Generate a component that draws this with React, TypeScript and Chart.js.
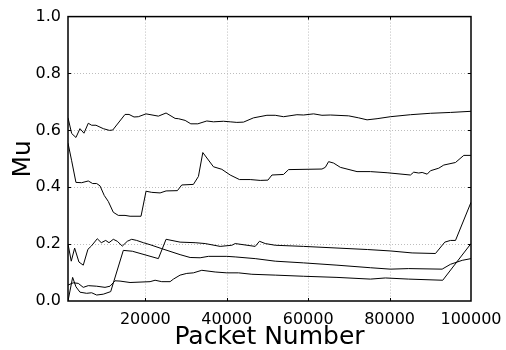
import React, { useEffect, useRef } from "react";
import { Chart, registerables } from "chart.js";

Chart.register(...registerables);

// ---- Data ----
const xTickValues = [20000, 40000, 60000, 80000, 100000];
const yTickValues = [0, 0.2, 0.4, 0.6, 0.8, 1.0];

const topX = [1000, 1900, 2950, 3940, 4920, 5980, 6810, 7870, 9670, 11140, 11980, 15010, 15990, 17220, 18280, 20170, 23200, 25090, 27310, 28120, 29770, 31170, 32890, 35100, 36730, 39190, 40840, 42480, 44110, 46570, 49870, 51910, 53950, 57240, 58870, 61330, 63390, 65440, 69940, 72400, 74470, 76920, 80200, 85120, 90040, 94960, 100000];
const topY = [0.644, 0.589, 0.575, 0.606, 0.59, 0.625, 0.618, 0.618, 0.606, 0.6, 0.601, 0.656, 0.656, 0.647, 0.648, 0.658, 0.65, 0.661, 0.642, 0.641, 0.635, 0.623, 0.623, 0.633, 0.63, 0.632, 0.63, 0.628, 0.629, 0.644, 0.653, 0.653, 0.648, 0.655, 0.654, 0.658, 0.653, 0.654, 0.651, 0.644, 0.637, 0.641, 0.648, 0.655, 0.66, 0.663, 0.667];

const midX = [1000, 1900, 2950, 4350, 5980, 7060, 8040, 8860, 9910, 10900, 12130, 13360, 15010, 16240, 18940, 20170, 21570, 23620, 25090, 27870, 28950, 31810, 33040, 34120, 36730, 38790, 40840, 43120, 45760, 48220, 50110, 51100, 53950, 55180, 63390, 64210, 65020, 66250, 67900, 72000, 75280, 79390, 85120, 85930, 87160, 88000, 89230, 90040, 92080, 93310, 96190, 98230, 100000];
const midY = [0.555, 0.493, 0.417, 0.416, 0.422, 0.413, 0.413, 0.405, 0.371, 0.35, 0.312, 0.301, 0.301, 0.298, 0.298, 0.386, 0.382, 0.38, 0.387, 0.388, 0.408, 0.41, 0.438, 0.522, 0.472, 0.463, 0.443, 0.427, 0.427, 0.424, 0.425, 0.443, 0.445, 0.462, 0.464, 0.47, 0.49, 0.485, 0.47, 0.455, 0.455, 0.451, 0.443, 0.453, 0.45, 0.452, 0.446, 0.458, 0.467, 0.478, 0.487, 0.512, 0.512];

const zigX = [1000, 1800, 2630, 3690, 4750, 5900, 6720, 8190, 9180, 10260, 11070, 12130, 13110, 14340, 15570, 16650, 17880, 19510, 21160, 24040, 28540, 31000, 33460, 35500, 40020, 42070, 46990, 51910, 58870, 67080, 75280, 80200, 84700, 92910, 94960, 97840, 100000];
const zigY = [0.2, 0.14, 0.186, 0.137, 0.126, 0.182, 0.193, 0.219, 0.205, 0.213, 0.205, 0.217, 0.21, 0.193, 0.21, 0.217, 0.213, 0.205, 0.198, 0.184, 0.163, 0.153, 0.152, 0.157, 0.157, 0.155, 0.149, 0.14, 0.134, 0.126, 0.117, 0.112, 0.114, 0.112, 0.129, 0.143, 0.149];

const spikeX = [1000, 2140, 2950, 3940, 5580, 6810, 8040, 9670, 11490, 14590, 16800, 23200, 25090, 28540, 32230, 34690, 38380, 41250, 42070, 46990, 48040, 49450, 51910, 58870, 74540, 80200, 85530, 91270, 93560, 94960, 96190, 100000];
const spikeY = [0.0, 0.083, 0.05, 0.031, 0.027, 0.029, 0.021, 0.024, 0.033, 0.178, 0.175, 0.149, 0.217, 0.207, 0.205, 0.202, 0.192, 0.196, 0.202, 0.192, 0.21, 0.202, 0.196, 0.192, 0.181, 0.176, 0.169, 0.167, 0.207, 0.213, 0.213, 0.347];

const lowX = [1000, 2290, 3520, 4750, 5980, 8040, 10090, 11320, 12550, 13780, 16240, 21160, 22390, 24030, 26080, 26900, 28540, 30180, 31810, 33870, 37150, 40020, 42880, 46170, 51910, 58870, 67080, 75280, 78970, 84700, 93060, 100000];
const lowY = [0.056, 0.064, 0.062, 0.048, 0.054, 0.052, 0.048, 0.052, 0.071, 0.07, 0.065, 0.068, 0.073, 0.068, 0.068, 0.077, 0.091, 0.097, 0.099, 0.108, 0.102, 0.099, 0.099, 0.094, 0.091, 0.087, 0.083, 0.077, 0.081, 0.077, 0.073, 0.202];

const seriesList = [
  { xs: topX, ys: topY },
  { xs: midX, ys: midY },
  { xs: zigX, ys: zigY },
  { xs: spikeX, ys: spikeY },
  { xs: lowX, ys: lowY },
];

const FONT = "'DejaVu Sans', sans-serif";

const gridBoxPlugin = {
  id: "gridBoxPlugin",
  beforeDatasetsDraw(chart: any) {
    const { ctx, chartArea, scales } = chart;
    const { left, right, top, bottom } = chartArea;
    ctx.save();
    ctx.strokeStyle = "#bdbdbd";
    ctx.lineWidth = 1;
    ctx.setLineDash([1, 2]);
    ctx.beginPath();
    xTickValues.forEach((v) => {
      const px = Math.round(scales.x.getPixelForValue(v)) + 0.5;
      if (px < right - 1) {
        ctx.moveTo(px, top);
        ctx.lineTo(px, bottom);
      }
    });
    yTickValues.forEach((v) => {
      const py = Math.round(scales.y.getPixelForValue(v)) + 0.5;
      if (py > top + 1 && py < bottom - 1) {
        ctx.moveTo(left, py);
        ctx.lineTo(right, py);
      }
    });
    ctx.stroke();
    ctx.restore();
  },
  afterDatasetsDraw(chart: any) {
    const { ctx, chartArea, scales } = chart;
    const { left, right, top, bottom } = chartArea;
    ctx.save();
    ctx.strokeStyle = "#000";
    ctx.lineWidth = 1;
    ctx.beginPath();
    const T = 3;
    xTickValues.forEach((v) => {
      const px = Math.round(scales.x.getPixelForValue(v)) + 0.5;
      if (px < right - 1) {
        ctx.moveTo(px, bottom);
        ctx.lineTo(px, bottom - T);
        ctx.moveTo(px, top);
        ctx.lineTo(px, top + T);
      }
    });
    yTickValues.forEach((v) => {
      const py = Math.round(scales.y.getPixelForValue(v)) + 0.5;
      if (py > top + 1 && py < bottom - 1) {
        ctx.moveTo(left, py);
        ctx.lineTo(left + T, py);
        ctx.moveTo(right, py);
        ctx.lineTo(right - T, py);
      }
    });
    ctx.stroke();
    ctx.lineWidth = 1.5;
    ctx.strokeRect(left, top, right - left, bottom - top);
    ctx.restore();
  },
};

export default function App() {
  const ref = useRef<HTMLCanvasElement | null>(null);

  useEffect(() => {
    document.body.style.margin = "0";
    const canvas = ref.current;
    if (!canvas) return;
    const chart = new Chart(canvas, {
      type: "line",
      data: {
        datasets: seriesList.map((s) => ({
          data: s.xs.map((x, i) => ({ x, y: s.ys[i] })),
          borderColor: "#000",
          borderWidth: 1,
          pointRadius: 0,
          tension: 0,
          fill: false,
        })),
      },
      options: {
        animation: false,
        responsive: false,
        devicePixelRatio: 1,
        layout: { padding: { left: 0, right: 35, top: 15, bottom: 0 } },
        plugins: { legend: { display: false }, tooltip: { enabled: false } },
        scales: {
          x: {
            type: "linear",
            min: 1000,
            max: 100000,
            afterBuildTicks: (scale: any) => {
              scale.ticks = xTickValues.map((v) => ({ value: v }));
            },
            afterFit: (scale: any) => {
              scale.height = 49;
              scale.paddingRight = 0;
              scale.paddingLeft = 0;
            },
            grid: { display: false, drawTicks: false },
            border: { display: false },
            ticks: {
              color: "#000",
              font: { family: FONT, size: 16 },
              padding: 9,
              maxRotation: 0,
              autoSkip: false,
              callback: (v: any) => String(v),
            },
            title: {
              display: true,
              text: "Packet Number",
              color: "#000",
              font: { family: FONT, size: 25, lineHeight: 1.0 },
              padding: { top: 0, bottom: 0 },
            },
          },
          y: {
            type: "linear",
            min: 0,
            max: 1,
            afterBuildTicks: (scale: any) => {
              scale.ticks = yTickValues.map((v) => ({ value: v }));
            },
            afterFit: (scale: any) => {
              scale.width = 68;
            },
            grid: { display: false, drawTicks: false },
            border: { display: false },
            ticks: {
              color: "#000",
              font: { family: FONT, size: 16 },
              padding: 7,
              callback: (v: any) => Number(v).toFixed(1),
            },
            title: {
              display: true,
              text: "Mu",
              color: "#000",
              font: { family: FONT, size: 25, lineHeight: 1.2 },
              padding: { top: 8, bottom: 0 },
            },
          },
        },
      },
      plugins: [gridBoxPlugin],
    } as any);
    return () => chart.destroy();
  }, []);

  return (
    <div style={{ position: "absolute", left: 0, top: 0, width: 506, height: 350, background: "#fff" }}>
      <canvas ref={ref} width={506} height={350} style={{ width: 506, height: 350 }} />
    </div>
  );
}
